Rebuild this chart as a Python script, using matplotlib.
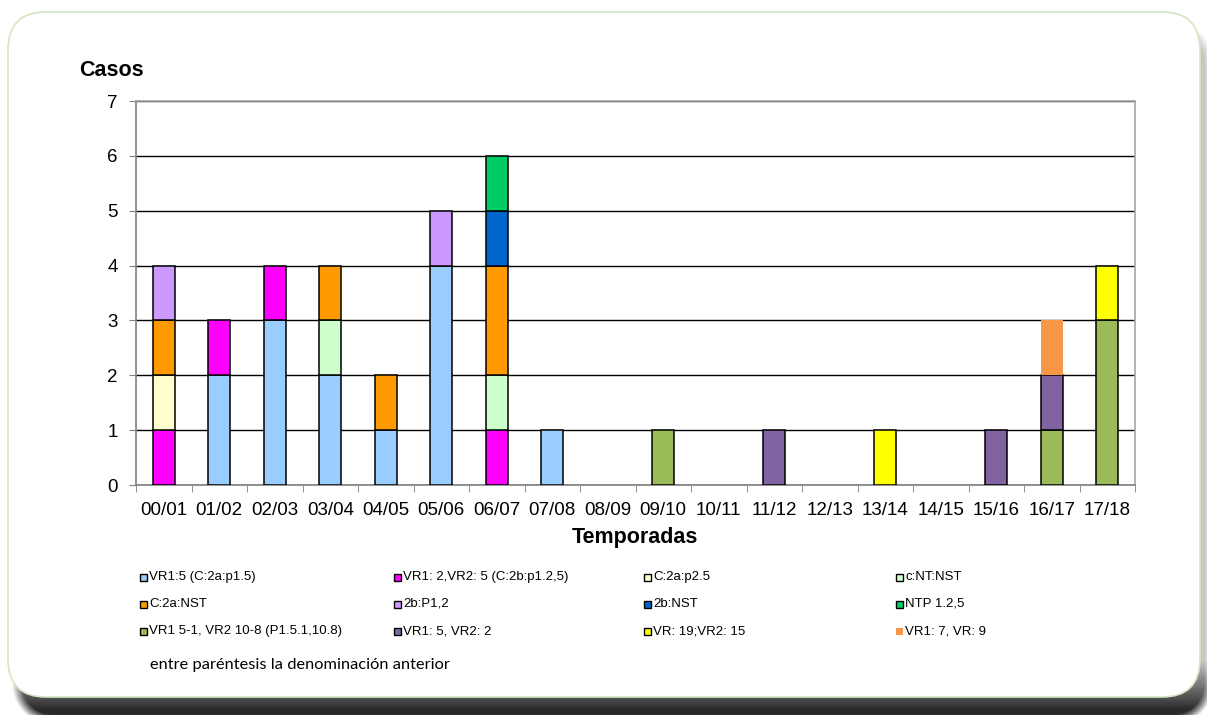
import numpy as np
import matplotlib.pyplot as plt
from matplotlib.patches import FancyBboxPatch, Rectangle

plt.rcParams['font.family'] = ['Liberation Sans', 'DejaVu Sans']

seasons = ["00/01", "01/02", "02/03", "03/04", "04/05", "05/06", "06/07", "07/08", "08/09",
           "09/10", "10/11", "11/12", "12/13", "13/14", "14/15", "15/16", "16/17", "17/18"]

labels = ["VR1:5 (C:2a:p1.5)", "VR1: 2,VR2: 5 (C:2b:p1.2,5)", "C:2a:p2.5", "c:NT:NST",
          "C:2a:NST", "2b:P1,2", "2b:NST", "NTP 1.2,5",
          "VR1 5-1, VR2 10-8 (P1.5.1,10.8)", "VR1: 5, VR2: 2", "VR: 19;VR2: 15", "VR1: 7, VR: 9"]

colors = ["#99CCFF", "#FF00FF", "#FFFFCC", "#CCFFCC",
          "#FF9900", "#CC99FF", "#0066CC", "#00CC66",
          "#9BBB59", "#8064A2", "#FFFF00", "#F79646"]

#                 00 01 02 03 04 05 06 07 08 09 10 11 12 13 14 15 16 17
vr1_5          = [0, 2, 3, 2, 1, 4, 0, 1, 0, 0, 0, 0, 0, 0, 0, 0, 0, 0]
vr1_2_vr2_5    = [1, 1, 1, 0, 0, 0, 1, 0, 0, 0, 0, 0, 0, 0, 0, 0, 0, 0]
c2a_p25        = [1, 0, 0, 0, 0, 0, 0, 0, 0, 0, 0, 0, 0, 0, 0, 0, 0, 0]
cnt_nst        = [0, 0, 0, 1, 0, 0, 1, 0, 0, 0, 0, 0, 0, 0, 0, 0, 0, 0]
c2a_nst        = [1, 0, 0, 1, 1, 0, 2, 0, 0, 0, 0, 0, 0, 0, 0, 0, 0, 0]
b2_p12         = [1, 0, 0, 0, 0, 1, 0, 0, 0, 0, 0, 0, 0, 0, 0, 0, 0, 0]
b2_nst         = [0, 0, 0, 0, 0, 0, 1, 0, 0, 0, 0, 0, 0, 0, 0, 0, 0, 0]
ntp_125        = [0, 0, 0, 0, 0, 0, 1, 0, 0, 0, 0, 0, 0, 0, 0, 0, 0, 0]
vr1_51_vr2_108 = [0, 0, 0, 0, 0, 0, 0, 0, 0, 1, 0, 0, 0, 0, 0, 0, 1, 3]
vr1_5_vr2_2    = [0, 0, 0, 0, 0, 0, 0, 0, 0, 0, 0, 1, 0, 0, 0, 1, 1, 0]
vr19_vr2_15    = [0, 0, 0, 0, 0, 0, 0, 0, 0, 0, 0, 0, 0, 1, 0, 0, 0, 1]
vr1_7_vr9      = [0, 0, 0, 0, 0, 0, 0, 0, 0, 0, 0, 0, 0, 0, 0, 0, 1, 0]

series = [vr1_5, vr1_2_vr2_5, c2a_p25, cnt_nst, c2a_nst, b2_p12, b2_nst, ntp_125,
          vr1_51_vr2_108, vr1_5_vr2_2, vr19_vr2_15, vr1_7_vr9]
edged = [True] * 11 + [False]

W, H = 1207, 715
fig = plt.figure(figsize=(W / 100, H / 100), dpi=100)

# background: rounded card over a soft drop shadow, all in pixel units
bg = fig.add_axes([0, 0, 1, 1], zorder=-1)
bg.set_xlim(0, W)
bg.set_ylim(H, 0)
bg.axis('off')

yy, xx = np.mgrid[0:H, 0:W] + 0.5
x0, y0, x1, y1, r = 12, 22, 1214, 724, 40
cx, cy = (x0 + x1) / 2, (y0 + y1) / 2
qx = np.abs(xx - cx) - ((x1 - x0) / 2 - r)
qy = np.abs(yy - cy) - ((y1 - y0) / 2 - r)
dist = np.hypot(np.maximum(qx, 0), np.maximum(qy, 0)) + np.minimum(np.maximum(qx, qy), 0) - r
mask = np.clip(-dist / 10, 0, 1)
depth = 0.22 + 0.62 * np.clip((yy - 660) / 50, 0, 1)
shade = 1 - mask * depth
bg.imshow(np.dstack([shade] * 3), extent=(0, W, H, 0), interpolation='bilinear')

bg.add_patch(FancyBboxPatch((8, 12), 1192, 685,
                            boxstyle="round,pad=0,rounding_size=38",
                            facecolor='white', edgecolor='#D5E6C4', linewidth=1.2))
bg.set_xlim(0, W)
bg.set_ylim(H, 0)

ax = fig.add_axes([136 / W, 1 - 485 / H, (1135 - 136) / W, (485 - 101) / H])
x = np.arange(len(seasons))
bottom = np.zeros(len(seasons))
for vals, col, lab, e in zip(series, colors, labels, edged):
    vals = np.array(vals, dtype=float)
    m = vals > 0
    ax.bar(x[m], vals[m], 0.4, bottom=bottom[m], color=col, label=lab,
           edgecolor='black' if e else 'none', linewidth=1.1, zorder=3)
    bottom += vals

ax.set_xlim(-0.5, len(seasons) - 0.5)
ax.set_ylim(0, 7)
ax.set_yticks(range(8))
ax.yaxis.grid(True, color='black', linewidth=1)
ax.set_axisbelow(True)
ax.set_xticks(x)
ax.set_xticklabels(seasons, fontsize=13.5)
ax.set_xticks(np.arange(-0.5, len(seasons)), minor=True)
ax.tick_params(axis='x', which='major', length=0, pad=12)
ax.tick_params(axis='x', which='minor', length=5, color='#808080', direction='out')
ax.tick_params(axis='y', length=5, color='#808080', labelsize=13.5, pad=8)
for s in ['left', 'bottom']:
    ax.spines[s].set_color('#7F7F7F')
for s in ['top', 'right']:
    ax.spines[s].set_color('#A6A6A6')
for s in ax.spines.values():
    s.set_linewidth(1.2)

fig.text(79 / W, 1 - 70 / H, "Casos", fontsize=15.5, fontweight='bold', va='center', ha='left')
fig.text(635 / W, 1 - 537 / H, "Temporadas", fontsize=15.5, fontweight='bold', va='center', ha='center')

# legend laid out in a fixed 4-column grid
col_x = [143, 397, 647, 899]
row_y = [577, 604, 631]
for i, (lab, col, e) in enumerate(zip(labels, colors, edged)):
    lx, ly = col_x[i % 4], row_y[i // 4]
    bg.add_patch(Rectangle((lx - 3.5, ly - 3.5), 7, 7, facecolor=col,
                           edgecolor='black' if e else 'none', linewidth=1))
    bg.text(lx + 6, ly, lab, fontsize=9.5, va='center', ha='left')

bg.text(150, 665, "entre paréntesis la denominación anterior", fontsize=11.8,
        family=['Lato', 'DejaVu Sans'], va='center', ha='left')

fig.savefig("out.png", dpi=100)
